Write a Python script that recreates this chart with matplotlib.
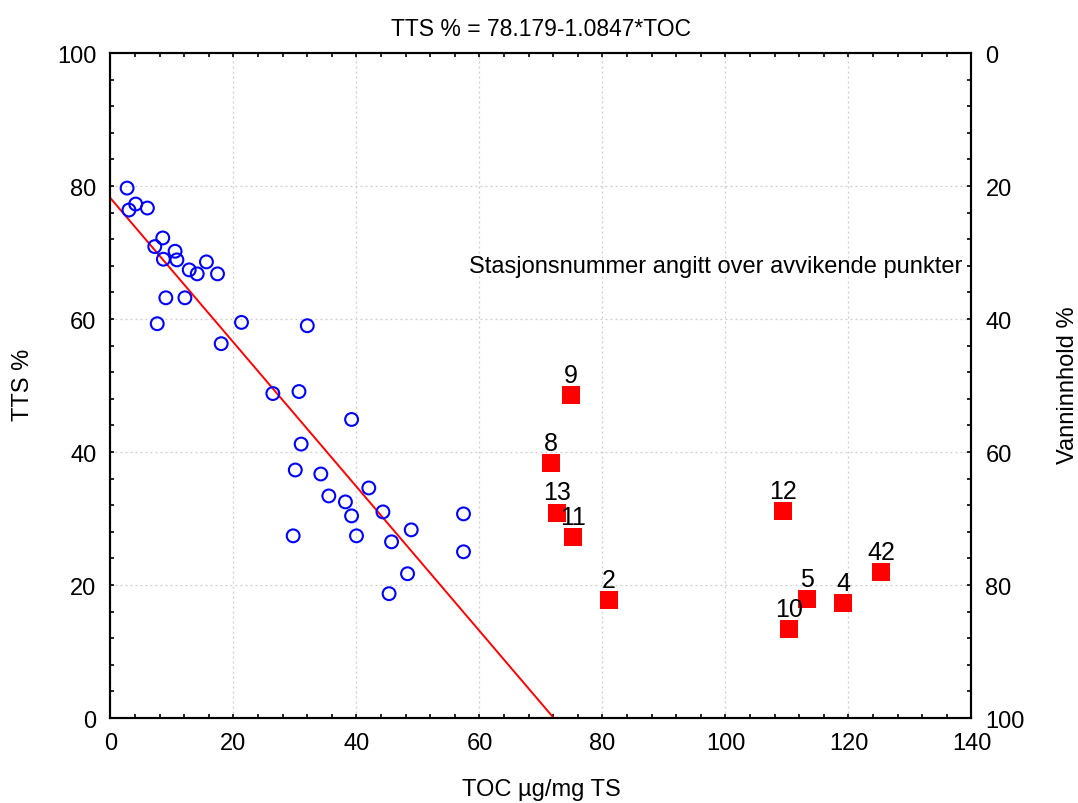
import matplotlib.pyplot as plt
import numpy as np
from matplotlib.ticker import MultipleLocator

plt.rcParams['font.family'] = ['Liberation Sans', 'DejaVu Sans']

# stations following the regression (blue circles)
toc = [2.7, 4.1, 3.0, 6.0, 8.5, 7.2, 10.5, 8.6, 10.8, 15.6, 12.8, 14.1, 17.4,
       9.0, 12.1, 7.6, 21.3, 32.0, 18.0,
       26.4, 30.65, 39.2, 31.0, 30.05, 34.2, 42.0, 35.5, 38.2, 44.3, 39.2,
       57.4, 48.9, 29.7, 40.0, 45.7, 57.4, 48.3, 45.3]
tts = [79.7, 77.3, 76.4, 76.7, 72.2, 70.9, 70.2, 69.0, 68.9, 68.6, 67.4, 66.8, 66.8,
       63.2, 63.2, 59.3, 59.5, 59.0, 56.3,
       48.8, 49.1, 44.9, 41.2, 37.3, 36.7, 34.6, 33.4, 32.5, 31.0, 30.4,
       30.7, 28.3, 27.4, 27.4, 26.5, 25.0, 21.7, 18.7]

# deviating stations (red squares)
stations = ['9', '8', '13', '11', '2', '12', '42', '5', '4', '10']
toc_dev = [74.8, 71.6, 72.6, 75.2, 81.0, 109.3, 125.3, 113.3, 119.1, 110.3]
tts_dev = [48.6, 38.3, 30.9, 27.2, 17.7, 31.1, 21.9, 17.9, 17.3, 13.4]

intercept, slope = 78.179, -1.0847
fs = 17

fig = plt.figure(figsize=(10.78, 8.04), dpi=100)
ax = fig.add_axes([0.1025, 0.1057, 0.7987, 0.827])

ax.set_xlim(0, 140)
ax.set_ylim(0, 100)
ax.grid(True, which='major', color='#cccccc', linestyle=(0, (1.5, 2.5)), linewidth=0.9)
ax.set_axisbelow(True)

# regression line
xl = np.array([0, -intercept / slope])
ax.plot(xl, intercept + slope * xl, color='red', linewidth=1.4, zorder=2)

ax.scatter(toc, tts, s=85, facecolors='none', edgecolors='blue', linewidths=1.5, zorder=3)
ax.scatter(toc_dev, tts_dev, s=150, marker='s', color='red', linewidths=0, zorder=3)
for lab, x, y in zip(stations, toc_dev, tts_dev):
    ax.annotate(lab, (x, y), xytext=(0, 6), textcoords='offset points',
                ha='center', va='bottom', fontsize=18)

ax.text(138.5, 68, 'Stasjonsnummer angitt over avvikende punkter',
        ha='right', va='center', fontsize=fs)

ax.set_title('TTS % = 78.179-1.0847*TOC', fontsize=16.5, pad=13)

ax.xaxis.set_major_locator(MultipleLocator(20))
ax.xaxis.set_minor_locator(MultipleLocator(4))
ax.yaxis.set_major_locator(MultipleLocator(20))
ax.yaxis.set_minor_locator(MultipleLocator(4))
ax.tick_params(which='both', direction='in', length=3, width=1.2,
               top=True, right=False, labelsize=fs, pad=10)

for sp in ax.spines.values():
    sp.set_linewidth(1.5)

# right axis: water content, inverted
ax2 = ax.twinx()
ax2.set_ylim(100, 0)
ax2.yaxis.set_major_locator(MultipleLocator(20))
ax2.yaxis.set_minor_locator(MultipleLocator(4))
ax2.tick_params(which='both', direction='in', length=3, width=1.2,
                labelsize=fs, pad=10)
for sp in ax2.spines.values():
    sp.set_linewidth(1.5)

# axis labels placed in figure coordinates
fig.text(0.502, 0.017, 'TOC µg/mg TS', ha='center', va='center', fontsize=fs)
fig.text(0.021, 0.521, 'TTS %', ha='center', va='center', rotation=90, fontsize=fs)
fig.text(0.991, 0.521, 'Vanninnhold %', ha='center', va='center', rotation=90, fontsize=fs)

fig.savefig('out.png', dpi=100)
